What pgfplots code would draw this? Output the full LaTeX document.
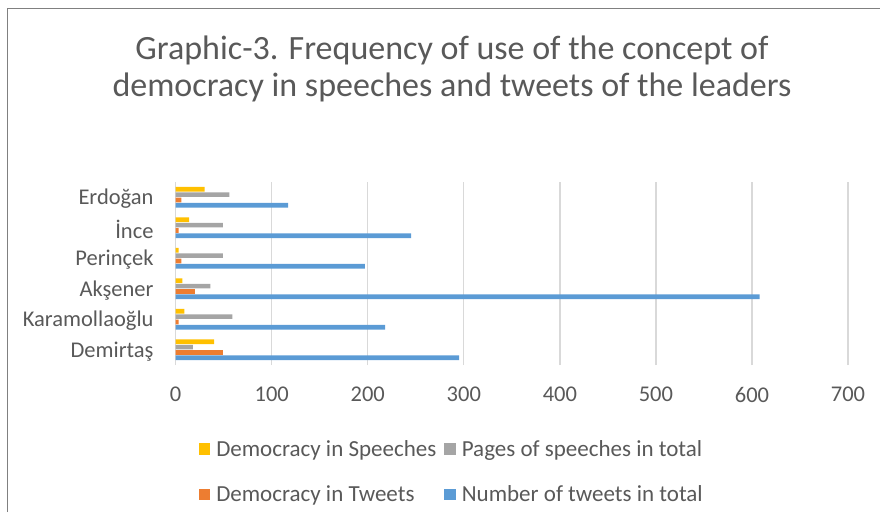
\documentclass[border=0pt]{standalone}
\usepackage{fontspec}
\setmainfont{Carlito}
\usepackage{pgfplots}
\pgfplotsset{compat=1.18}
\definecolor{cy}{HTML}{FFC000}
\definecolor{cg}{HTML}{A5A5A5}
\definecolor{co}{HTML}{ED7D31}
\definecolor{cb}{HTML}{5B9BD5}
\definecolor{txt}{HTML}{595959}
\definecolor{grd}{HTML}{D9D9D9}
\definecolor{frm}{HTML}{808080}
\pgfplotsset{sq legend/.style={legend image code/.code={\fill[##1] (0pt,-5.8pt) rectangle (11.5pt,5.8pt);}}}
\begin{document}
\begin{tikzpicture}
\useasboundingbox (0pt,0pt) rectangle (880pt,-512pt);
\draw[frm, line width=1.3pt] (7.5pt,-512pt) -- (7.5pt,-8.5pt) -- (880pt,-8.5pt);
\node[text=txt, font=\fontsize{34}{40}\selectfont, anchor=base, inner sep=0pt] at (452pt,-59pt) {Graphic-3. Frequency of use of the concept of};
\node[text=txt, font=\fontsize{34}{40}\selectfont, anchor=base, inner sep=0pt] at (452pt,-96pt) {democracy in speeches and tweets of the leaders};
\begin{axis}[
  at={(175.7pt,-365pt)}, anchor=south west,
  scale only axis, width=672.3pt, height=183pt,
  xbar=0.6pt, bar width=4.7pt,
  xmin=0, xmax=700, ymin=-0.5, ymax=5.5,
  xtick={0,100,...,700}, ytick={0,...,5},
  yticklabels={Demirtaş,Karamollaoğlu,Akşener,Perinçek,İnce,Erdoğan},
  xmajorgrids, grid style={grd, line width=1.3pt},
  axis line style={draw=none}, major tick length=0pt,
  tick label style={text=txt, font=\fontsize{22.5}{27}\selectfont},
  /pgf/number format/assume math mode=true,
  xticklabel style={inner sep=0pt, yshift=-22pt},
  yticklabel style={inner sep=0pt, xshift=-22pt, yshift=-1.5pt},
  reverse legend, legend columns=2, legend cell align=left,
  legend style={at={(axis description cs:0.034,-0.399)}, anchor=north west,
    draw=none, fill=none, inner sep=0pt, font=\fontsize{23}{27}\selectfont, text=txt,
    nodes={inner sep=2pt}, row sep=24pt,
    /tikz/every odd column/.append style={column sep=4pt},
    /tikz/every even column/.append style={column sep=6pt}},
]
\addplot[draw=none, fill=cb, sq legend] coordinates {(295,0) (218,1) (608,2) (197,3) (245,4) (117,5)};
\addlegendentry{Number of tweets in total}
\addplot[draw=none, fill=co, sq legend] coordinates {(49,0) (3,1) (20,2) (6,3) (3,4) (6,5)};
\addlegendentry{Democracy in Tweets}
\addplot[draw=none, fill=cg, sq legend] coordinates {(18,0) (59,1) (36,2) (49,3) (49,4) (56,5)};
\addlegendentry{Pages of speeches in total}
\addplot[draw=none, fill=cy, sq legend] coordinates {(40,0) (9,1) (7,2) (3,3) (14,4) (30,5)};
\addlegendentry{Democracy in Speeches}
\end{axis}
\end{tikzpicture}
\end{document}
